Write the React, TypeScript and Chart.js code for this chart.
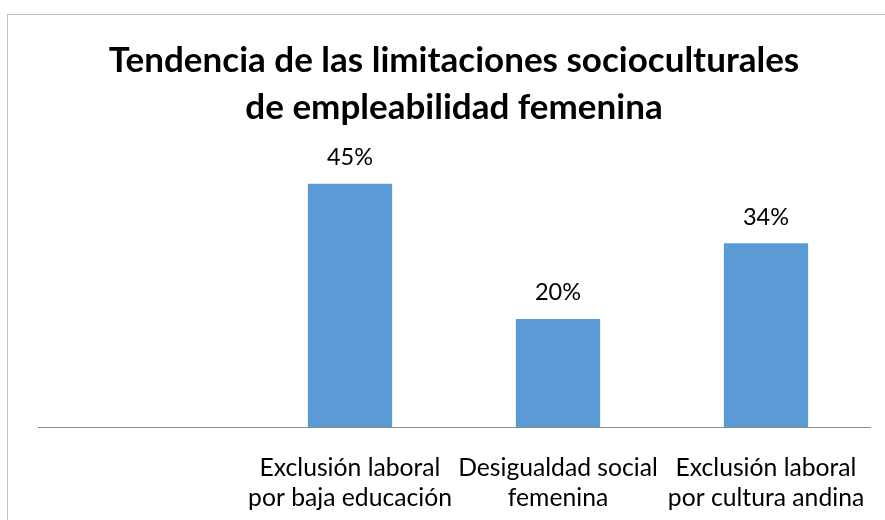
import React, { useEffect, useRef } from "react";
import { Chart, registerables } from "chart.js";

Chart.register(...registerables);

const titleLines = [
  "Tendencia de las limitaciones socioculturales",
  "de empleabilidad femenina",
];
const categories: (string | string[])[] = [
  "",
  ["Exclusión laboral", "por baja educación"],
  ["Desigualdad social", "femenina"],
  ["Exclusión laboral", "por cultura andina"],
];
const values: (number | null)[] = [null, 45, 20, 34];
const valueLabels = ["", "45%", "20%", "34%"];

const FONT = "Lato, 'Open Sans', sans-serif";

const valueLabelPlugin = {
  id: "valueLabels",
  afterDatasetsDraw(chart: any) {
    const ctx = chart.ctx;
    const meta = chart.getDatasetMeta(0);
    ctx.save();
    ctx.font = `23.5px ${FONT}`;
    ctx.fillStyle = "#000000";
    ctx.textAlign = "center";
    ctx.textBaseline = "middle";
    meta.data.forEach((bar: any, i: number) => {
      if (values[i] == null) return;
      ctx.fillText(valueLabels[i], bar.x, bar.y - 26);
    });
    ctx.restore();
  },
};

export default function App() {
  const ref = useRef<HTMLCanvasElement | null>(null);
  useEffect(() => {
    if (!ref.current) return;
    const chart = new Chart(ref.current, {
      type: "bar",
      data: {
        labels: categories,
        datasets: [
          {
            data: values,
            backgroundColor: "#5B9BD5",
            borderWidth: 0,
            categoryPercentage: 1,
            barPercentage: 0.405,
          },
        ],
      },
      options: {
        responsive: false,
        animation: false,
        layout: { padding: { left: 38, right: 15, top: 0, bottom: 0 } },
        plugins: {
          legend: { display: false },
          tooltip: { enabled: false },
          title: {
            display: true,
            text: titleLines,
            color: "#000000",
            font: { family: FONT, size: 35, weight: "bold", lineHeight: 1.34 },
            padding: { top: 37, bottom: 26 },
          },
        },
        scales: {
          x: {
            grid: { display: false },
            border: { display: true, color: "#8c8c8c", width: 1 },
            ticks: {
              color: "#000000",
              font: { family: FONT, size: 24.7, lineHeight: 1.215 },
              padding: 18,
              autoSkip: false,
              maxRotation: 0,
            },
            afterFit: (scale: any) => {
              scale.height = 93;
            },
          },
          y: {
            display: false,
            min: 0,
            max: 50,
          },
        },
      },
      plugins: [valueLabelPlugin],
    });
    return () => chart.destroy();
  }, []);

  return (
    <div
      style={{
        position: "fixed",
        left: 0,
        top: 0,
        width: 885,
        height: 520,
        overflow: "hidden",
        background: "#ffffff",
      }}
    >
      <div
        style={{
          position: "absolute",
          left: 7,
          top: 14,
          width: 1000,
          height: 1000,
          borderLeft: "1px solid #bfbfbf",
          borderTop: "1px solid #bfbfbf",
        }}
      />
      <canvas
        ref={ref}
        width={885}
        height={520}
        style={{ position: "absolute", left: 0, top: 0, width: 885, height: 520 }}
      />
    </div>
  );
}
